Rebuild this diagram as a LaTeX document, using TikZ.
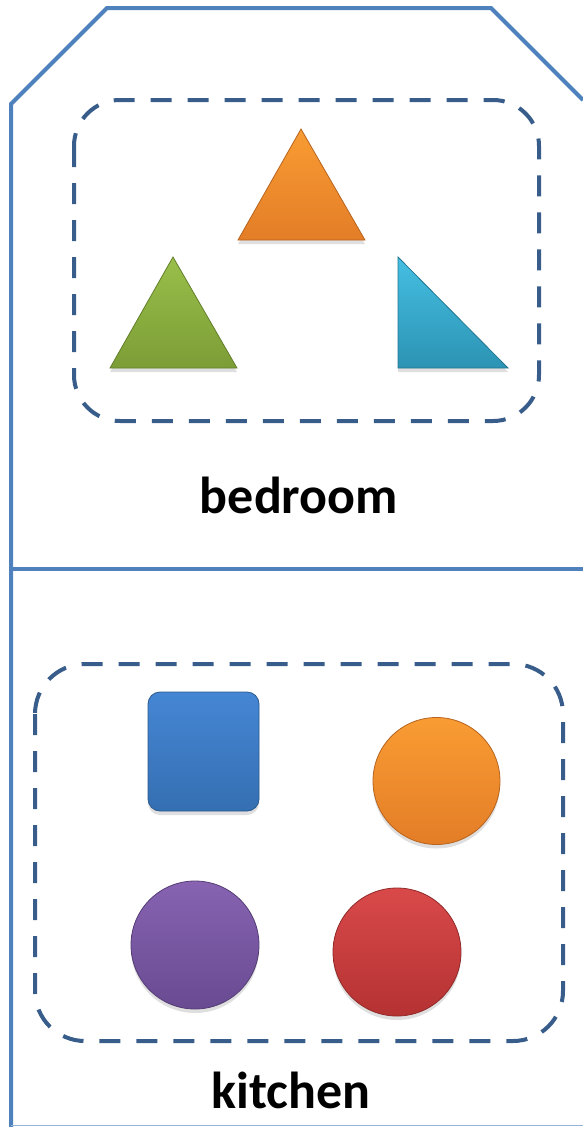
\documentclass[tikz,border=0pt]{standalone}
\usepackage{fontspec}
\setmainfont{Carlito}
\usetikzlibrary{shadows}
\definecolor{frameblue}{HTML}{4F81BD}
\definecolor{boxblue}{HTML}{385D8A}
\definecolor{orangetop}{HTML}{F99C33}
\definecolor{orangebot}{HTML}{E37D27}
\definecolor{greentop}{HTML}{99BF4A}
\definecolor{greenbot}{HTML}{7C9D36}
\definecolor{cyantop}{HTML}{45BFE2}
\definecolor{cyanbot}{HTML}{2C93B4}
\definecolor{bluetop}{HTML}{4586D4}
\definecolor{bluebot}{HTML}{356FB2}
\definecolor{purpletop}{HTML}{8763B1}
\definecolor{purplebot}{HTML}{694B92}
\definecolor{redtop}{HTML}{D9494A}
\definecolor{redbot}{HTML}{B53232}
\begin{document}
\begin{tikzpicture}[x=1pt,y=-1pt,
    frame/.style={draw=frameblue,line width=4pt,line join=miter},
    group/.style={draw=boxblue,line width=4pt,dash pattern=on 21pt off 16pt,rounded corners=46pt},
    piece/.style={line width=0.8pt,drop shadow={opacity=0.25,shadow xshift=0pt,shadow yshift=-4pt}},
    roomlabel/.style={anchor=base,font=\fontsize{52}{60}\selectfont\bfseries}]
    \useasboundingbox (0,0) rectangle (583,1127);
    % outline of the two rooms
    \draw[frame] (583,100) -- (491,8) -- (107,8) -- (11,104) -- (11,1127);
    \draw[frame] (11,569) -- (583,569);
    \draw[frameblue!60,line width=1.5pt] (11,1125.5) -- (583,1125.5);
    % bedroom
    \draw[group] (74,100) rectangle (539,421);
    \path[piece,draw=orangebot!80!black,top color=orangetop,bottom color=orangebot] (301,129) -- (365,240) -- (238,240) -- cycle;
    \path[piece,draw=greenbot!80!black,top color=greentop,bottom color=greenbot] (173,257) -- (237,368) -- (110,368) -- cycle;
    \path[piece,draw=cyanbot!80!black,top color=cyantop,bottom color=cyanbot] (398,257) -- (508,368) -- (398,368) -- cycle;
    \node[roomlabel] (bedroom) at (299,513) {bedroom};
    % kitchen
    \draw[group,rounded corners=50pt] (35,664) rectangle (563,1041);
    \path[piece,draw=bluebot!80!black,top color=bluetop,bottom color=bluebot,rounded corners=12pt] (148,692) rectangle (259,811);
    \path[piece,draw=orangebot!80!black,top color=orangetop,bottom color=orangebot] (436.5,781) circle (63.5);
    \path[piece,draw=purplebot!80!black,top color=purpletop,bottom color=purplebot] (195,945) circle (64);
    \path[piece,draw=redbot!80!black,top color=redtop,bottom color=redbot] (397,952) circle (64);
    \node[roomlabel] (kitchen) at (291,1108) {kitchen};
\end{tikzpicture}
\end{document}
